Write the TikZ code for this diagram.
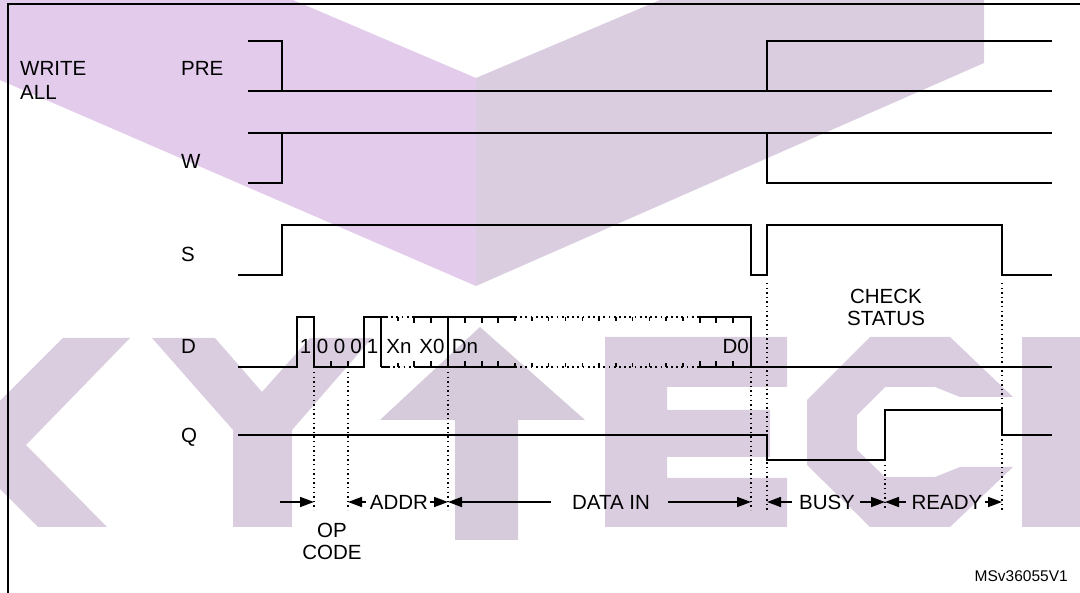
\documentclass[tikz,border=0pt]{standalone}
\usepackage{fontspec}
\setmainfont{Liberation Sans}
\usetikzlibrary{arrows.meta}

\definecolor{wmpink}{RGB}{226,203,235}
\definecolor{wmgrey}{RGB}{218,205,224}
\definecolor{wmdark}{RGB}{213,203,219}

\tikzset{
  sig/.style={line width=2pt},
  guide/.style={line width=1.4pt, dash pattern=on 1.4pt off 3.2pt},
  busdot/.style={line width=1.8pt, dash pattern=on 1.8pt off 3.4pt},
  lbl/.style={font=\fontsize{20.5}{22}\selectfont, inner sep=0pt},
  span/.style={line width=1.6pt, -{Triangle[length=14pt,width=10pt]}},
}

\begin{document}
\begin{tikzpicture}[x=1pt,y=-1pt]
  \useasboundingbox (0,0) rectangle (1080,593);

  % watermark
  \fill[wmpink] (0,0) -- (293,0) -- (476,78) -- (476,286) -- (0,80) -- cycle;
  \fill[wmgrey] (476,78) -- (660,0) -- (984,0) -- (984,63) -- (476,286) -- cycle;
  \fill[wmgrey] (63,338) -- (130,338) -- (26,445) -- (107,527) -- (38,527)
    -- (0,489) -- (0,401) -- cycle;
  \fill[wmgrey] (152,338) -- (215,338) -- (262,392) -- (310,338) -- (372,338)
    -- (292,430) -- (292,527) -- (233,527) -- (233,430) -- cycle;
  \fill[wmdark] (380,420) -- (480,327) -- (585,420) -- (518,420) -- (518,540)
    -- (455,540) -- (455,420) -- cycle;
  \fill[wmgrey] (605,337) -- (787,337) -- (787,387) -- (667,387) -- (667,410)
    -- (770,410) -- (770,457) -- (667,457) -- (667,478) -- (787,478)
    -- (787,527) -- (605,527) -- cycle;
  \fill[wmgrey] (870,337) -- (950,337) -- (1013,397) -- (960,397) -- (935,387)
    -- (885,387) -- (857,415) -- (857,450) -- (885,477) -- (935,477) -- (960,467)
    -- (1013,467) -- (950,527) -- (870,527) -- (807,465) -- (807,400) -- cycle;
  \fill[wmgrey] (1022,337) rectangle (1080,527);

  % frame
  \draw[sig] (8,593) -- (8,4) -- (1080,4);

  % signal names
  \node[lbl, anchor=west] (write) at (20,68) {WRITE};
  \node[lbl, anchor=west] (all) at (20,92) {ALL};
  \node[lbl, anchor=west] (pre) at (181,68) {PRE};
  \node[lbl, anchor=west] (w) at (181,161) {W};
  \node[lbl, anchor=west] (s) at (181,254) {S};
  \node[lbl, anchor=west] (d) at (181,346) {D};
  \node[lbl, anchor=west] (q) at (181,437) {Q};

  % PRE
  \draw[sig] (248,41) -- (282,41) -- (282,91);
  \draw[sig] (248,91) -- (1052,91);
  \draw[sig] (767,91) -- (767,41) -- (1052,41);
  % W
  \draw[sig] (248,133) -- (1052,133);
  \draw[sig] (248,183) -- (282,183) -- (282,133);
  \draw[sig] (767,133) -- (767,183) -- (1052,183);
  % S
  \draw[sig] (238,275) -- (282,275) -- (282,225) -- (751,225) -- (751,275)
    -- (767,275) -- (767,225) -- (1002,225) -- (1002,275) -- (1052,275);
  % Q
  \draw[sig] (238,435) -- (767,435) -- (767,460) -- (885,460) -- (885,410)
    -- (1002,410) -- (1002,435) -- (1052,435);

  % D: op code
  \draw[sig] (238,367) -- (297,367) -- (297,317) -- (314,317) -- (314,367)
    -- (364,367) -- (364,317) -- (381,317) -- (381,367);
  \foreach \x in {331,348}
    \draw[sig] (\x,367) -- (\x,361);
  % D: address
  \draw[sig] (381,317) -- (386,317);
  \draw[busdot] (386,317) -- (414,317);
  \draw[sig] (414,317) -- (448,317);
  \draw[sig] (381,367) -- (388,367);
  \draw[busdot] (388,367) -- (414,367);
  \draw[sig] (414,367) -- (448,367);
  \draw[line width=1.4pt] (398,317) -- (398,321) (398,367) -- (398,363);
  \foreach \x in {414,431}
    \draw[sig] (\x,317) -- (\x,323) (\x,367) -- (\x,361);
  \draw[sig] (448,317) -- (448,367);
  % D: data
  \draw[sig] (448,317) -- (515,317) (448,367) -- (515,367);
  \draw[busdot] (515,317) -- (699,317) (515,367) -- (699,367);
  \draw[sig] (699,317) -- (751,317) -- (751,367) -- (1052,367) (699,367) -- (751,367);
  \foreach \k in {1,...,17}{
    \pgfmathsetmacro\x{448+16.78*\k}
    \ifnum\k<4
      \draw[sig] (\x,317) -- (\x,323) (\x,367) -- (\x,361);
    \else\ifnum\k>14
      \draw[sig] (\x,317) -- (\x,323) (\x,367) -- (\x,361);
    \else
      \draw[line width=1.4pt] (\x,317) -- (\x,321) (\x,367) -- (\x,363);
    \fi\fi
  }
  \node[lbl] (b1) at (305.5,346) {1};
  \node[lbl] (b2) at (322.5,346) {0};
  \node[lbl] (b3) at (339.5,346) {0};
  \node[lbl] (b4) at (356,346) {0};
  \node[lbl] (b5) at (372.5,346) {1};
  \node[lbl] (xn) at (399,346) {Xn};
  \node[lbl] (x0) at (432,346) {X0};
  \node[lbl] (dn) at (465,346) {Dn};
  \node[lbl, anchor=east] (d0) at (749,346) {D0};

  % guides
  \draw[guide] (314,372) -- (314,510);
  \draw[guide] (348,372) -- (348,510);
  \draw[guide] (448,372) -- (448,510);
  \draw[guide] (751,372) -- (751,510);
  \draw[guide] (767,283) -- (767,510);
  \draw[guide] (885,465) -- (885,510);
  \draw[guide] (1002,283) -- (1002,510);

  \node[lbl, align=center] (check) at (886,307) {CHECK\\STATUS};

  % phases
  \coordinate (g1) at (314,502);
  \coordinate (g2) at (348,502);
  \coordinate (g3) at (448,502);
  \coordinate (g4) at (751,502);
  \coordinate (g5) at (767,502);
  \coordinate (g6) at (885,502);
  \coordinate (g7) at (1002,502);
  \coordinate (opl) at (280,502);
  \node[lbl] (addr) at (399,502) {ADDR};
  \node[lbl] (din) at (611,502) {DATA IN};
  \node[lbl] (busy) at (827,502) {BUSY};
  \node[lbl] (ready) at (947,502) {READY};
  \node[lbl, align=center] (opcode) at (332,541) {OP\\CODE};
  \draw[span] (opl) -- (g1);
  \draw[span, shorten <=4pt] (addr) -- (g2);
  \draw[span, shorten <=2pt] (addr) -- (g3);
  \draw[span, shorten <=21pt] (din) -- (g3);
  \draw[span, shorten <=18pt] (din) -- (g4);
  \draw[span, shorten <=7pt] (busy) -- (g5);
  \draw[span, shorten <=5pt] (busy) -- (g6);
  \draw[span, shorten <=5pt] (ready) -- (g6);
  \draw[span, shorten <=2pt] (ready) -- (g7);

  \node[font=\fontsize{15.5}{17}\selectfont, inner sep=0pt, anchor=east] (ref) at (1068,576) {MSv36055V1};
\end{tikzpicture}
\end{document}
